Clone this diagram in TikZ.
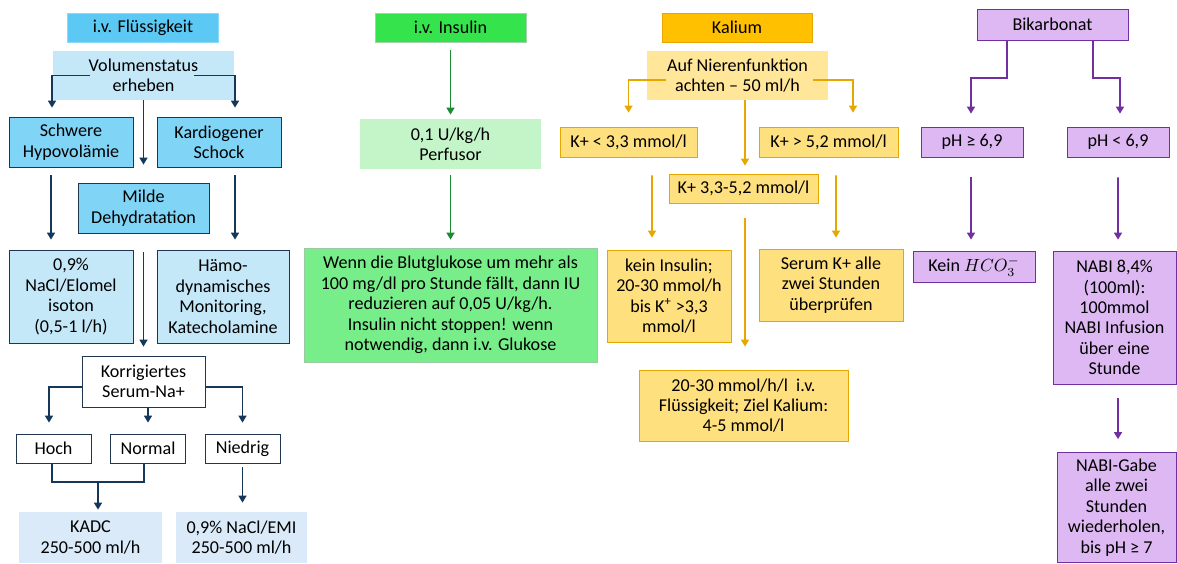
\documentclass[tikz,border=0pt]{standalone}
\usepackage{fontspec}
\setmainfont{Carlito}
\usetikzlibrary{calc}
\usetikzlibrary{arrows.meta}
\tikzset{>={Triangle[width=4.5pt,length=4pt]}}
\definecolor{Bhead}{HTML}{5BC9F3}
\definecolor{Blight}{HTML}{C4E8F8}
\definecolor{Bmid}{HTML}{80D4F6}
\definecolor{Bpale}{HTML}{DAEAF8}
\definecolor{Bdark}{HTML}{1F3550}
\definecolor{Bline}{HTML}{15375A}
\definecolor{Ghead}{HTML}{35E34D}
\definecolor{Glight}{HTML}{C4F5C9}
\definecolor{Gmid}{HTML}{78EE8A}
\definecolor{Gline}{HTML}{1E8A35}
\definecolor{Khead}{HTML}{FFC000}
\definecolor{Klight}{HTML}{FFE699}
\definecolor{Kbox}{HTML}{FFE07F}
\definecolor{Kline}{HTML}{E6A800}
\definecolor{Phead}{HTML}{DDB8F3}
\definecolor{Pline}{HTML}{7030A0}
\def\pxu{0.2mm}
\tikzset{
  box/.style={rectangle,align=center,inner sep=1pt,font=\fontsize{10.3}{11.6}\selectfont},
  sz/.style args={#1x#2}{minimum width=#1*\pxu,minimum height=#2*\pxu},
  arrB/.style={->,draw=Bline,line width=1.1pt},
  arrG/.style={->,draw=Gline,line width=1.1pt},
  arrK/.style={->,draw=Kline,line width=1.1pt},
  arrP/.style={->,draw=Pline,line width=1.1pt},
}

\begin{document}
\begin{tikzpicture}[x=0.2mm,y=-0.2mm]
  \useasboundingbox (0,0) rectangle (1177,563);

  % i.v. Fluessigkeit
  \node[box,sz=151x29,fill=Bhead,draw=Bhead!70!white] (fl) at (143,27.5) {i.v. Flüssigkeit};
  \node[box,sz=181x49,fill=Blight] (vol) at (143.5,75.5) {Volumenstatus\\erheben};
  \node[box,sz=124x50,fill=Bmid,draw=Bdark] (schwer) at (71,142) {Schwere\\Hypovolämie};
  \node[box,sz=124x50,fill=Bmid,draw=Bdark] (kardio) at (219,142) {Kardiogener\\Schock};
  \node[box,sz=131x50,fill=Bmid,draw=Bdark] (milde) at (143.5,208) {Milde\\Dehydratation};
  \node[box,sz=124x93,fill=Blight,draw=Bdark] (nacl) at (71,296.5) {0,9\%\\NaCl/Elomel\\isoton\\(0,5-1 l/h)};
  \node[box,sz=132x93,fill=Blight,draw=Bdark] (haemo) at (223,296.5) {Hämo-\\dynamisches\\Monitoring,\\Katecholamine};
  \node[box,sz=123x51,fill=white,draw=Bdark] (korr) at (143.5,381.5) {Korrigiertes\\Serum-Na+};
  \node[box,sz=75x29,fill=white,draw=Bdark] (hoch) at (53.5,448.5) {Hoch};
  \node[box,sz=75x29,fill=white,draw=Bdark] (normal) at (148,448.5) {Normal};
  \node[box,sz=75x29,fill=white,draw=Bdark] (niedrig) at (242.5,448.5) {Niedrig};
  \node[box,sz=143x51,fill=Bpale] (kadc) at (90.5,537.5) {KADC\\250-500 ml/h};
  \node[box,sz=131x51,fill=Bpale] (emi) at (241.5,537.5) {0,9\% NaCl/EMI\\250-500 ml/h};
  \coordinate (join) at (98,482);

  \draw[arrB] ($(vol.center)+(-54,0)$) -| ($(schwer.north)+(-19,-9)$);
  \draw[arrB] ($(vol.center)+(50,0)$) -| ($(kardio.north)+(16,-9)$);
  \draw[arrB] (vol.south) -- ($(milde.north)+(0,-18)$);
  \draw[arrB] ($(schwer.south)+(-20,8)$) -- ($(nacl.north)+(-20,-10)$);
  \draw[arrB] ($(kardio.south)+(16,8)$) -- ($(haemo.north)+(12,-10)$);
  \draw[arrB] ($(milde.south)+(0,19)$) -- ($(korr.north)+(0,-9)$);
  \draw[arrB] ($(korr.west)+(0,5.5)$) -| ($(hoch.north)+(-4.5,-11)$);
  \draw[arrB] (korr.south -| normal.north) -- ($(normal.north)+(0,-11)$);
  \draw[arrB] ($(korr.east)+(0,5.5)$) -| ($(niedrig.north)+(0,-11)$);
  \draw[Bline,line width=1.1pt] ($(hoch.south)+(-1.5,0)$) |- ($(normal.south)+(-4,19)$) -- ($(normal.south)+(-4,0)$);
  \draw[arrB] (join) -- ($(join |- kadc.north)+(0,-2)$);
  \draw[arrB] ($(niedrig.south)+(0,4)$) -- ($(emi.north)+(1,-9)$);

  % i.v. Insulin
  \node[box,sz=151x29,fill=Ghead,draw=Gline!40] (ins) at (450.5,27.5) {i.v. Insulin};
  \node[box,sz=181x50,fill=Glight] (perf) at (450.5,144) {0,1 U/kg/h\\Perfusor};
  \node[box,sz=293x114,fill=Gmid,draw=Gline!45] (glu) at (450.5,305) {Wenn die Blutglukose um mehr als\\100 mg/dl pro Stunde fällt, dann IU\\reduzieren auf 0,05 U/kg/h.\\Insulin nicht stoppen! wenn\\notwendig, dann i.v. Glukose};

  \draw[arrG] ($(ins.south)+(0,8)$) -- ($(perf.north)+(0,-4)$);
  \draw[arrG] ($(perf.south)+(0,6)$) -- ($(glu.north)+(0,-8)$);

  % Kalium
  \node[box,sz=150x29,fill=Khead,draw=Kline] (kal) at (737,27.5) {Kalium};
  \node[box,sz=181x49,fill=Klight] (nier) at (737.5,75.5) {Auf Nierenfunktion\\achten -- 50 ml/h};
  \node[box,sz=137x30,fill=Kbox,draw=Kline] (klow) at (628.5,142) {K+ < 3,3 mmol/l};
  \node[box,sz=139x30,fill=Kbox,draw=Kline] (khigh) at (828.5,142) {K+ > 5,2 mmol/l};
  \node[box,sz=149x29,fill=Kbox,draw=Kline] (kmid) at (743.5,188.5) {K+ 3,3-5,2 mmol/l};
  \node[box,sz=124x92,fill=Kbox,draw=Kline] (keinins) at (669,296) {kein Insulin;\\20-30 mmol/h\\bis K\textsuperscript{+} >3,3\\mmol/l};
  \node[box,sz=144x72,fill=Kbox,draw=Kline] (serum) at (831,285) {Serum K+ alle\\zwei Stunden\\überprüfen};
  \node[box,sz=209x71,fill=Kbox,draw=Kline] (ziel) at (743.5,405.5) {20-30 mmol/h/l~~i.v.\\Flüssigkeit; Ziel Kalium:\\4-5 mmol/l};

  \draw[arrK] ($(nier.center)+(-71.5,4.5)$) -| ($(klow.north)+(0,-14)$);
  \draw[arrK] ($(nier.center)+(75.5,4.5)$) -| ($(khigh.north)+(24.5,-14)$);
  \draw[arrK] ($(nier.south)+(7.5,0)$) -- ($(kmid.north)+(1.5,-8)$);
  \draw[arrK] ($(klow.south)+(23.5,18)$) -- ($(keinins.north)+(-17,-12)$);
  \draw[arrK] ($(khigh.south)+(7.5,18)$) -- ($(serum.north)+(5,-11)$);
  \draw[arrK] ($(kmid.south)+(1.5,15)$) -- ($(ziel.north)+(1.5,-23)$);

  % Bikarbonat
  \node[box,sz=151x31,fill=Phead,draw=Pline] (bik) at (1052.5,24.5) {Bikarbonat};
  \node[box,sz=102x30,fill=Phead,draw=Pline] (phge) at (972,142) {pH ≥ 6,9};
  \node[box,sz=102x30,fill=Phead,draw=Pline] (phlt) at (1118,142) {pH < 6,9};
  \node[box,sz=122x31,fill=Phead,draw=Pline] (kein) at (974,266.5) {Kein $HCO_3^-$};
  \node[box,sz=123x133,fill=Phead,draw=Pline] (nabi) at (1114.5,317.5) {NABI 8,4\%\\(100ml):\\100mmol\\NABI Infusion\\über eine\\Stunde};
  \node[box,sz=119x110,fill=Phead,draw=Pline] (gabe) at (1116.5,507.5) {NABI-Gabe\\alle zwei\\Stunden\\wiederholen,\\bis pH ≥ 7};

  \draw[arrP] ($(bik.south)+(-45.5,0)$) -- ++(0,38) -| ($(phge.north)+(-1,-13)$);
  \draw[arrP] ($(bik.south)+(40.5,0)$) -- ++(0,38) -| ($(phlt.north)+(2,-13)$);
  \draw[arrP] ($(phge.south)+(-1,20)$) -- ($(kein.north)+(-3,-11)$);
  \draw[arrP] ($(phlt.south)+(0,20)$) -- ($(nabi.north)+(3.5,-11)$);
  \draw[arrP] ($(nabi.south)+(3.5,14)$) -- ($(gabe.north)+(1.5,-13)$);
\end{tikzpicture}
\end{document}
